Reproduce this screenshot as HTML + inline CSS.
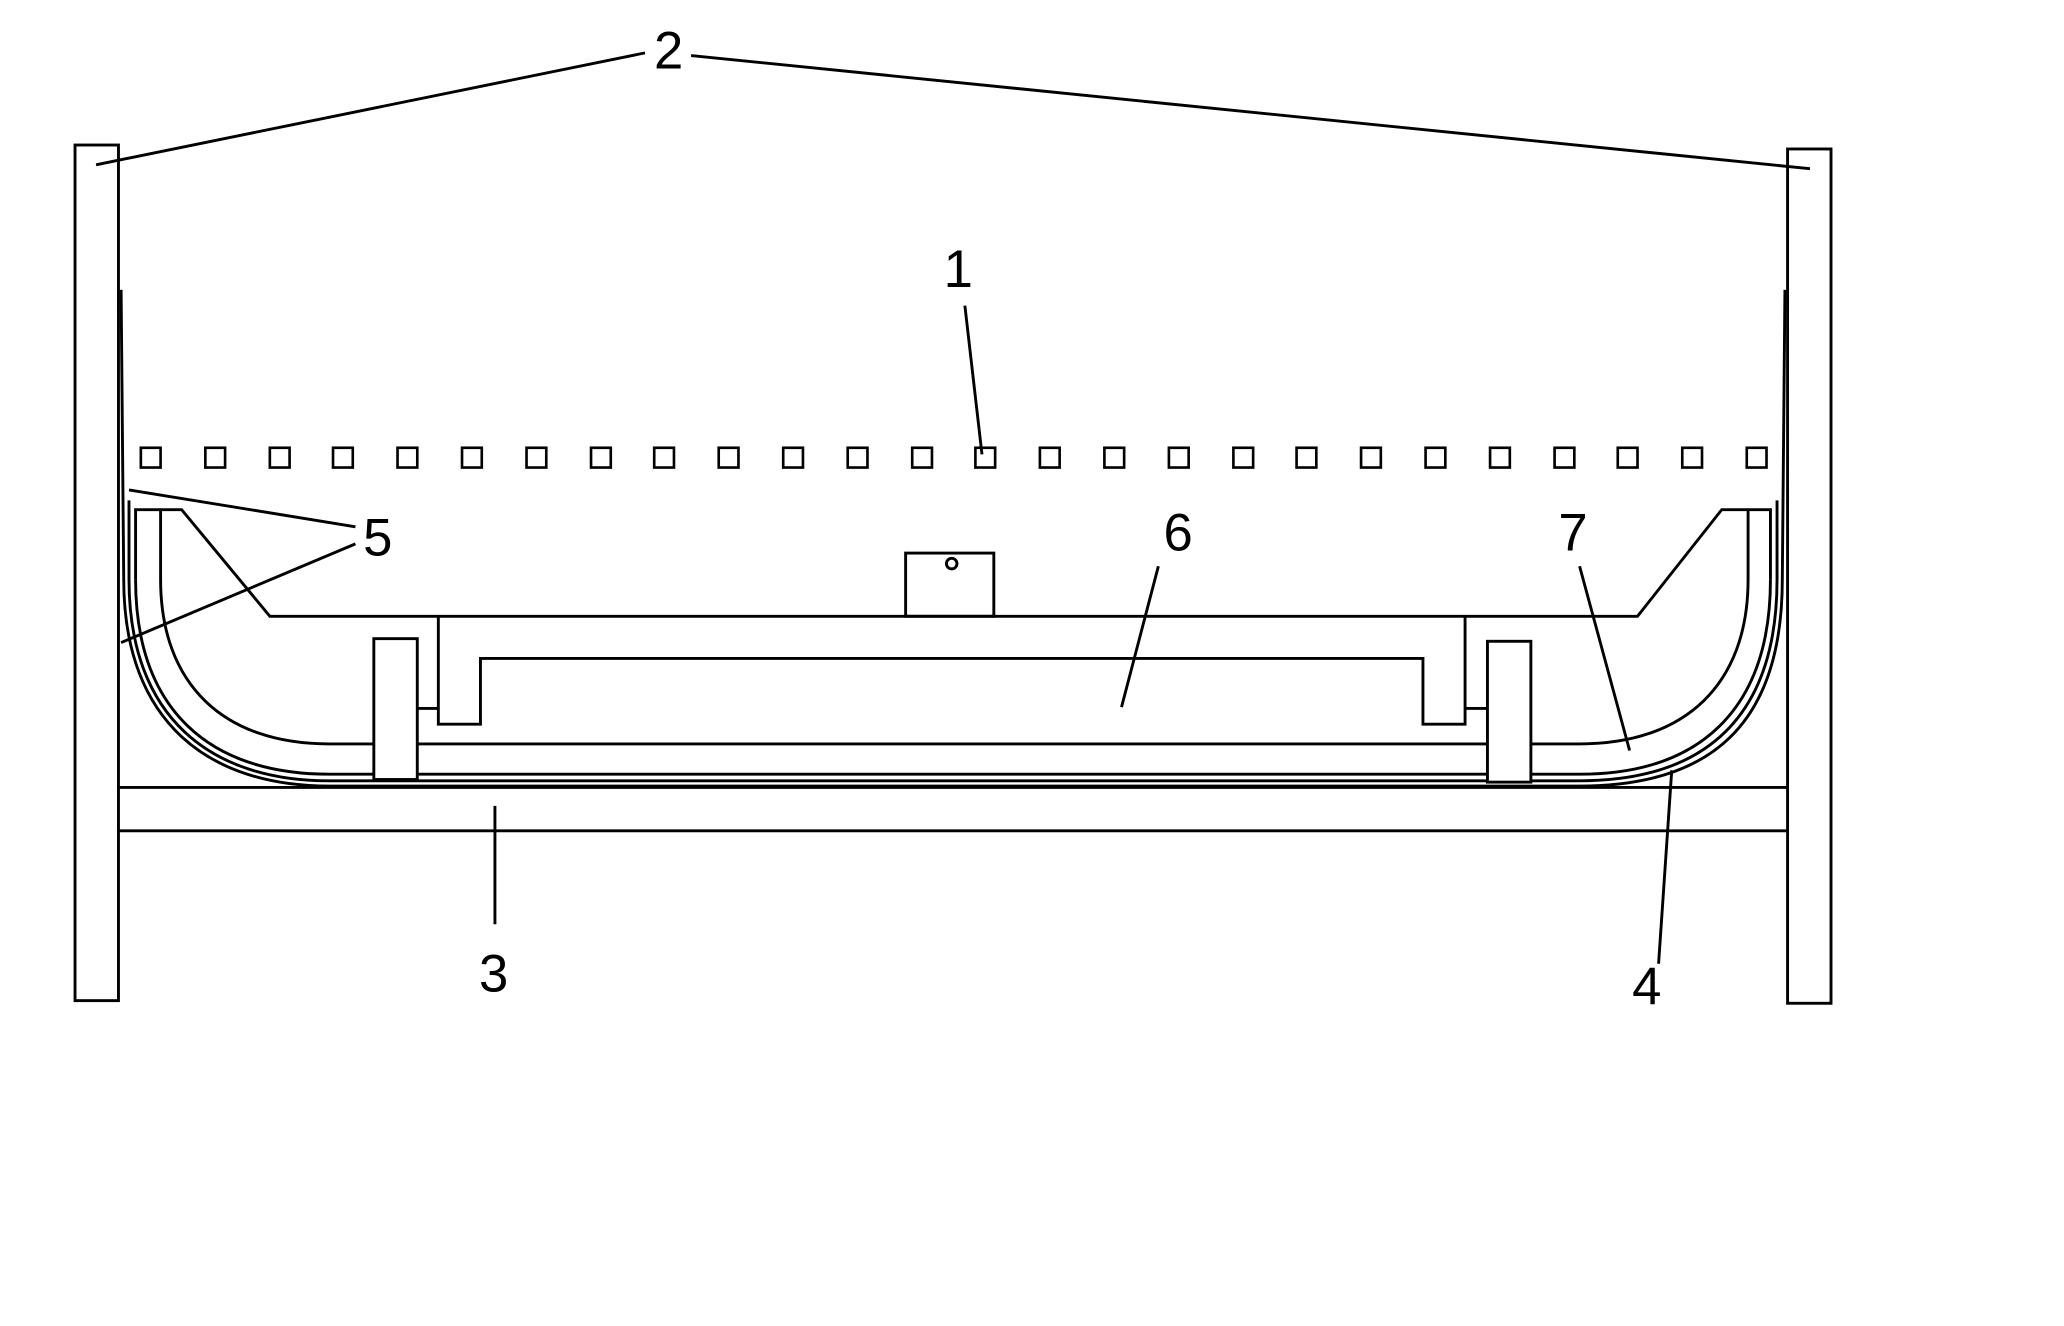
<!DOCTYPE html>
<html><head><style>body{margin:0;background:#fff}svg{display:block}</style></head><body>
<svg width="2064" height="1326" viewBox="0 0 1568 1007" xmlns="http://www.w3.org/2000/svg">
<g fill="none" stroke="#000" stroke-width="2.2">
<rect x="57" y="110" width="33" height="650"/>
<rect x="1358" y="113" width="33" height="649"/>
<line x1="90" y1="598" x2="1358" y2="598"/>
<line x1="90" y1="631" x2="1358" y2="631"/>
<polyline points="73,125 490,40"/>
<polyline points="525,42 1375,128"/>
<line x1="733" y1="232" x2="746" y2="345"/>
<path d="M92,220 L94,440 C94,550 160,597 250,597 L1200,597 C1300,597 1354,550 1354,440 L1356,220"/>
<path d="M98,380 L98,440 C98,545 160,593 250,593 L1200,593 C1295,593 1350,545 1350,440 L1350,380"/>
<path d="M103,440 C103,540 160,588 250,588 L1200,588 C1290,588 1345,540 1345,440"/>
<polyline points="103,440 103,387 138,387 205,468 1244,468 1308,387 1345,387 1345,440"/>
<path d="M122,387 L122,440 C122,520 170,565 250,565 L1200,565 C1280,565 1328,520 1328,440 L1328,387"/>
<polyline points="333,468 333,550 365,550 365,500 1081,500 1081,550 1113,550 1113,468"/>
<rect x="284" y="485" width="33" height="107" fill="#fff"/>
<rect x="1130" y="487" width="33" height="107" fill="#fff"/>
<line x1="317" y1="538" x2="333" y2="538"/>
<line x1="1113" y1="538" x2="1130" y2="538"/>
<rect x="688" y="420" width="67" height="48"/>
<circle cx="723" cy="428" r="4"/>
<line x1="98" y1="372" x2="270" y2="400"/>
<line x1="92" y1="488" x2="270" y2="413"/>
<line x1="880" y1="430" x2="852" y2="537"/>
<line x1="1200" y1="430" x2="1238" y2="570"/>
<line x1="376" y1="612" x2="376" y2="702"/>
<line x1="1270" y1="585" x2="1260" y2="732"/>
</g>
<g fill="none" stroke="#000" stroke-width="2">
<rect x="107" y="340" width="15" height="15"/><rect x="156" y="340" width="15" height="15"/><rect x="205" y="340" width="15" height="15"/><rect x="253" y="340" width="15" height="15"/><rect x="302" y="340" width="15" height="15"/><rect x="351" y="340" width="15" height="15"/><rect x="400" y="340" width="15" height="15"/><rect x="449" y="340" width="15" height="15"/><rect x="497" y="340" width="15" height="15"/><rect x="546" y="340" width="15" height="15"/><rect x="595" y="340" width="15" height="15"/><rect x="644" y="340" width="15" height="15"/><rect x="693" y="340" width="15" height="15"/><rect x="741" y="340" width="15" height="15"/><rect x="790" y="340" width="15" height="15"/><rect x="839" y="340" width="15" height="15"/><rect x="888" y="340" width="15" height="15"/><rect x="937" y="340" width="15" height="15"/><rect x="985" y="340" width="15" height="15"/><rect x="1034" y="340" width="15" height="15"/><rect x="1083" y="340" width="15" height="15"/><rect x="1132" y="340" width="15" height="15"/><rect x="1181" y="340" width="15" height="15"/><rect x="1229" y="340" width="15" height="15"/><rect x="1278" y="340" width="15" height="15"/><rect x="1327" y="340" width="15" height="15"/>
</g>
<g font-family="Liberation Sans, sans-serif" font-size="40" fill="#000" text-anchor="middle">
<text x="508" y="52">2</text>
<text x="728" y="218">1</text>
<text x="287" y="422">5</text>
<text x="895" y="418">6</text>
<text x="1195" y="418">7</text>
<text x="375" y="753">3</text>
<text x="1251" y="763">4</text>
</g>
</svg>
</body></html>
